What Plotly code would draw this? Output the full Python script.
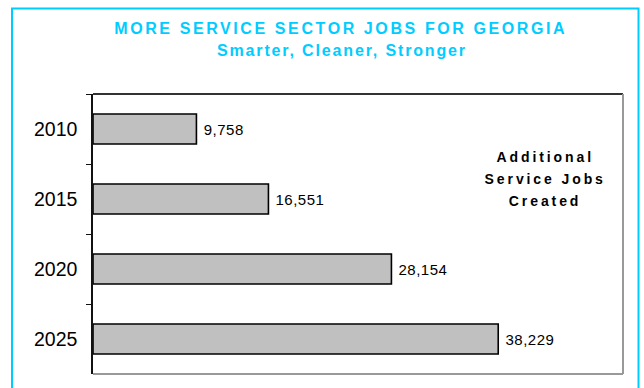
import json
import plotly.graph_objects as go

# Additional service-sector jobs by year
years = ["2010", "2015", "2020", "2025"]
jobs = [9758, 16551, 28154, 38229]

title_text = "MORE SERVICE SECTOR JOBS FOR GEORGIA"
subtitle_text = "Smarter, Cleaner, Stronger"
note_lines = ["Additional", "Service Jobs", "Created"]

CYAN = "#00CCFF"
FONT = "Liberation Sans, Arial, sans-serif"

# plot area in pixels: x 93..623, y 94..374
W, H = 644, 388
L, R, T, B = 93, 21, 94, 14
pw, ph = W - L - R, H - T - B


def px_x(x):
    return (x - L) / pw


def px_y(y):
    return 1 - (y - T) / ph


fig = go.Figure(
    go.Bar(
        y=years,
        x=jobs,
        orientation="h",
        width=0.43,
        marker=dict(color="#C0C0C0", line=dict(color="#000000", width=1.6)),
        hoverinfo="skip",
    )
)

annotations = []
spacing = []

# value labels at the end of each bar (category index on the y axis)
for idx, v in enumerate(jobs):
    annotations.append(dict(
        x=v, y=idx, xref="x", yref="y", text=f"{v:,}", showarrow=False,
        xanchor="left", yanchor="middle", xshift=7,
        font=dict(family=FONT, size=15, color="#000000"),
    ))
    spacing.append(0.5)

# heading
annotations.append(dict(
    x=px_x(341), y=px_y(29), xref="paper", yref="paper", text=f"<b>{title_text}</b>",
    showarrow=False, xanchor="center", yanchor="middle",
    font=dict(family=FONT, size=16, color=CYAN),
))
spacing.append(2.6)
annotations.append(dict(
    x=px_x(342), y=px_y(50), xref="paper", yref="paper", text=f"<b>{subtitle_text}</b>",
    showarrow=False, xanchor="center", yanchor="middle",
    font=dict(family=FONT, size=16, color=CYAN),
))
spacing.append(1.85)

# in-plot note
for i, line in enumerate(note_lines):
    annotations.append(dict(
        x=px_x(545), y=px_y(157 + 22 * i), xref="paper", yref="paper", text=f"<b>{line}</b>",
        showarrow=False, xanchor="center", yanchor="middle",
        font=dict(family=FONT, size=14, color="#000000"),
    ))
    spacing.append(2.9)

shapes = [
    # outer cyan frame
    dict(type="rect", xref="paper", yref="paper",
         x0=px_x(12), x1=px_x(638.5), y0=px_y(8.5), y1=px_y(400),
         line=dict(color=CYAN, width=2)),
    # plot-area border
    dict(type="line", xref="paper", yref="paper", x0=0, x1=1, y0=1, y1=1,
         line=dict(color="#333333", width=2)),
    dict(type="line", xref="paper", yref="paper", x0=1, x1=1, y0=0, y1=1,
         line=dict(color="#999999", width=2)),
    dict(type="line", xref="paper", yref="paper", x0=0, x1=1, y0=0, y1=0,
         line=dict(color="#999999", width=2)),
]

fig.update_layout(
    width=W, height=H,
    margin=dict(l=L, r=R, t=T, b=B),
    paper_bgcolor="white", plot_bgcolor="white",
    showlegend=False,
    annotations=annotations,
    shapes=shapes,
    xaxis=dict(range=[0, 50000], visible=False, fixedrange=True),
    yaxis=dict(
        type="category", categoryorder="array", categoryarray=years,
        range=[3.5, -0.5],
        showline=True, linecolor="#111111", linewidth=1.5,
        ticks="outside", ticklen=5, tickcolor="#111111", tickwidth=1.2,
        tickson="boundaries", ticklabelstandoff=10,
        showgrid=False, zeroline=False,
        tickfont=dict(family=FONT, size=19.5, color="#000000"),
        fixedrange=True,
    ),
)

post = """
(function(){
  var sp = %s;
  function apply(){
    var gd = document.getElementById('{plot_id}');
    gd.querySelectorAll('g.annotation').forEach(function(g){
      var i = +g.getAttribute('data-index');
      var t = g.querySelector('text');
      if (t && sp[i] !== undefined) t.style.letterSpacing = sp[i] + 'px';
    });
  }
  apply();
  setTimeout(apply, 0);
  setTimeout(apply, 200);
})();
""" % json.dumps(spacing)

fig.write_html("out.html", post_script=post, config={"displayModeBar": False})
